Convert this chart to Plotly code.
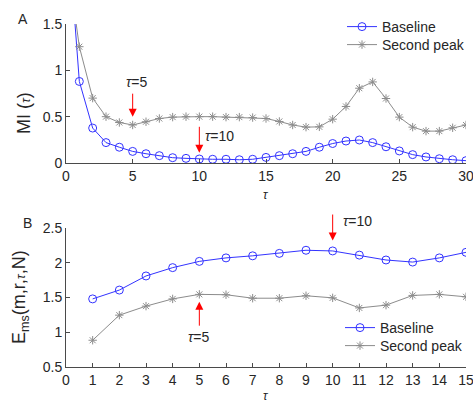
import plotly.graph_objects as go

# ---- Panel A data ----
tau_a = list(range(0, 31))
mi_baseline = [2.8, 0.88, 0.377, 0.22, 0.17, 0.125, 0.10, 0.079, 0.057, 0.05, 0.043,
               0.04, 0.04, 0.035, 0.04, 0.06, 0.079, 0.10, 0.125, 0.17, 0.21,
               0.237, 0.248, 0.22, 0.175, 0.13, 0.09, 0.065, 0.046, 0.035, 0.025]
mi_second = [2.3, 1.255, 0.70, 0.50, 0.437, 0.41, 0.445, 0.48, 0.495, 0.50, 0.50,
             0.50, 0.495, 0.495, 0.49, 0.48, 0.448, 0.41, 0.387, 0.39, 0.473,
             0.61, 0.807, 0.875, 0.696, 0.495, 0.387, 0.344, 0.344, 0.38, 0.41]

# ---- Panel B data ----
tau_b = list(range(1, 16))
ems_baseline = [1.48, 1.607, 1.81, 1.93, 2.02, 2.07, 2.10, 2.135, 2.18, 2.17,
                2.11, 2.04, 2.01, 2.07, 2.15]
ems_second = [0.885, 1.246, 1.376, 1.48, 1.545, 1.54, 1.49, 1.49, 1.525, 1.495,
              1.35, 1.39, 1.53, 1.545, 1.51]

xticks_a = [0, 5, 10, 15, 20, 25, 30]
yticks_a = [0, 0.5, 1, 1.5]
yticklabels_a = ["0", "0.5", "1", "1.5"]
xticks_b = list(range(0, 16))
yticks_b = [0.5, 1, 1.5, 2, 2.5]
yticklabels_b = ["0.5", "1", "1.5", "2", "2.5"]

BLUE = "#3333ff"
GRAY = "#8c8c8c"
AX = "#4a4a4a"
TXT = "#262626"
FONT = "Liberation Sans, Arial, sans-serif"


def px2paper_x(px):
    return (px - 66) / 400.0


def px2paper_y(py):
    return (367 - py) / 343.0


fig = go.Figure()

blue_marker = dict(symbol="circle-open", size=8, color=BLUE, line=dict(width=1))
gray_marker = dict(symbol="asterisk-open", size=7, color=GRAY, line=dict(width=1, color=GRAY))

fig.add_trace(go.Scatter(x=tau_a, y=mi_baseline, mode="lines+markers", name="Baseline",
                         line=dict(color=BLUE, width=1), marker=blue_marker,
                         xaxis="x", yaxis="y", legend="legend"))
fig.add_trace(go.Scatter(x=tau_a, y=mi_second, mode="lines+markers", name="Second peak",
                         line=dict(color=GRAY, width=1), marker=gray_marker,
                         xaxis="x", yaxis="y", legend="legend2"))
fig.add_trace(go.Scatter(x=tau_b, y=ems_baseline, mode="lines+markers", name="Baseline",
                         line=dict(color=BLUE, width=1), marker=blue_marker,
                         xaxis="x2", yaxis="y2", legend="legend3"))
fig.add_trace(go.Scatter(x=tau_b, y=ems_second, mode="lines+markers", name="Second peak",
                         line=dict(color=GRAY, width=1), marker=gray_marker,
                         xaxis="x2", yaxis="y2", legend="legend4"))

axis_common = dict(showline=True, linecolor=AX, linewidth=1, ticks="inside", ticklen=4,
                   tickcolor=AX, showgrid=False, zeroline=False, ticklabeloverflow="allow",
                   tickfont=dict(family=FONT, size=14, color=TXT))


def legend_at(px_left, py_center):
    return dict(x=px2paper_x(px_left), y=px2paper_y(py_center), xanchor="left", yanchor="middle",
                bgcolor="rgba(0,0,0,0)", font=dict(family=FONT, size=14, color=TXT),
                itemwidth=30, borderwidth=0)


fig.update_layout(
    width=473, height=404,
    margin=dict(l=66, r=7, t=24, b=37, autoexpand=False),
    paper_bgcolor="white", plot_bgcolor="white",
    font=dict(family=FONT, size=14, color=TXT),
    xaxis=dict(domain=[0, 1], range=[0, 30], tickvals=xticks_a, anchor="y", **axis_common),
    yaxis=dict(domain=[0.5948, 1], range=[0, 1.5], tickvals=yticks_a, ticktext=yticklabels_a,
               anchor="x", **axis_common),
    xaxis2=dict(domain=[0, 1], range=[0, 15], tickvals=xticks_b, anchor="y2", **axis_common),
    yaxis2=dict(domain=[0, 0.4052], range=[0.5, 2.5], tickvals=yticks_b, ticktext=yticklabels_b,
                anchor="x2", **axis_common),
    legend=legend_at(342, 27),
    legend2=legend_at(342, 45),
    legend3=legend_at(340, 328),
    legend4=legend_at(340, 346),
    showlegend=True,
)

ann = []


def ptext(text, px, py, size=14, angle=0, xanchor="center"):
    ann.append(dict(text=text, x=px2paper_x(px), y=px2paper_y(py), xref="paper", yref="paper",
                    xanchor=xanchor, yanchor="middle", showarrow=False, textangle=angle,
                    font=dict(family=FONT, size=size, color=TXT)))


# panel labels
ptext("A", 23, 19)
ptext("B", 27, 223)
# y titles
ptext("MI (<i><span style='font-size:13px'>τ</span></i>)", 24, 113, size=18, angle=-90)
ptext("E<sub>ms</sub>(m,r,<i><span style='font-size:13px'>τ</span></i>,N)", 20, 297, size=18, angle=-90)
# x titles
ptext("<i>τ</i>", 266, 195, size=12)
ptext("<i>τ</i>", 266, 396, size=12)

arrow = dict(showarrow=True, arrowhead=2, arrowsize=1.6, arrowwidth=1, arrowcolor="red",
             text=" ", font=dict(size=1), standoff=0)
# Panel A arrows
ann.append(dict(x=5, y=0.50, xref="x", yref="y", ax=0, ay=-25, **arrow))
ann.append(dict(x=10, y=0.11, xref="x", yref="y", ax=0, ay=-28, **arrow))
# Panel B arrows
ann.append(dict(x=5, y=1.44, xref="x2", yref="y2", ax=0, ay=26, **arrow))
ann.append(dict(x=10, y=2.32, xref="x2", yref="y2", ax=0, ay=-28, **arrow))
# arrow labels
ptext("<i>τ</i>=5", 136, 82)
ptext("<i>τ</i>=10", 203, 136, xanchor="left")
ptext("<i>τ</i>=5", 198, 337)
ptext("<i>τ</i>=10", 341, 221, xanchor="left")

fig.update_layout(annotations=ann)

fig.write_html("out.html")
